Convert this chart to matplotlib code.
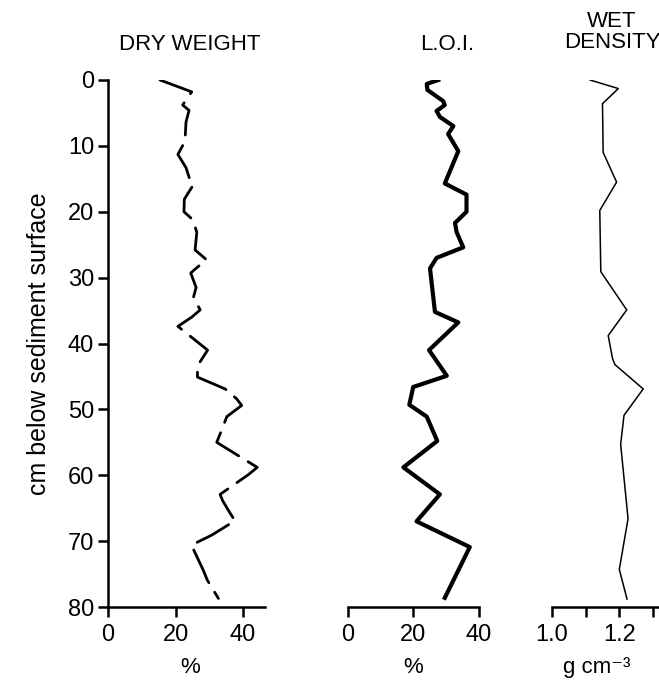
import matplotlib
matplotlib.use("Agg")
import matplotlib.pyplot as plt

plt.rcParams['font.family'] = ['Liberation Sans', 'DejaVu Sans']

# dry weight (%), drawn as a broken line
dw_depth = [0, 1.8, 3.8, 4.6, 6.4, 9.3, 11.3, 13.3, 14.9, 15.9, 18.1, 20.0, 21.2,
            23.1, 25.8, 27.3, 28.4, 29.3, 31.5, 33.0, 34.9, 36.0, 37.4, 41.0,
            43.4, 45.1, 46.9, 48.4, 49.4, 51.1, 53.1, 55.0, 58.8, 59.9, 62.9,
            63.9, 65.7, 66.9, 69.1, 70.1, 70.7, 74.4, 75.9, 78.7]
dw_pct = [15.4, 24.8, 22.1, 24.0, 23.1, 22.8, 20.7, 23.1, 24.1, 25.3, 22.6, 22.5, 25.1,
          26.3, 25.8, 29.2, 26.5, 24.5, 26.1, 25.3, 27.3, 24.8, 20.7, 29.5,
          26.5, 26.5, 34.7, 38.1, 39.6, 35.2, 33.7, 32.2, 44.2, 41.6, 33.2,
          34.0, 36.1, 37.6, 30.7, 26.7, 24.8, 28.2, 29.4, 32.7]

# loss on ignition (%)
loi_depth = [0, 0.6, 1.5, 3.2, 3.8, 4.7, 5.6, 7.0, 8.2, 10.8, 15.7, 17.4, 20.0,
             21.7, 23.1, 25.4, 27.0, 28.6, 35.2, 36.8, 41.0, 44.9, 46.6, 49.3,
             51.1, 54.8, 58.8, 62.9, 67.0, 70.9, 78.6]
loi_pct = [27.6, 24.1, 24.3, 29.1, 29.6, 27.1, 28.1, 32.2, 30.6, 33.7, 29.6, 36.2, 36.2,
           32.7, 33.2, 35.2, 27.1, 25.1, 26.6, 33.7, 24.8, 30.2, 20.0, 18.8,
           24.1, 27.3, 17.0, 28.1, 21.0, 37.2, 29.6]

# wet density (g cm-3)
wd_depth = [0, 1.3, 3.6, 11.0, 15.5, 19.8, 29.1, 34.9, 38.8, 42.3, 43.2, 46.9,
            50.9, 55.3, 66.6, 74.3, 78.8]
wd_val = [1.113, 1.197, 1.150, 1.152, 1.192, 1.142, 1.145, 1.222, 1.167, 1.180,
          1.187, 1.271, 1.214, 1.204, 1.226, 1.200, 1.223]

W, H = 659, 690
fig = plt.figure(figsize=(W / 100, H / 100), dpi=100)
bottom = (H - 607) / H
height = 527 / H

ax1 = fig.add_axes([108 / W, bottom, 157 / W, height])
ax2 = fig.add_axes([347.5 / W, bottom, 131.5 / W, height])
ax3 = fig.add_axes([552 / W, bottom, 106 / W, height])

ax1.plot(dw_pct, dw_depth, color='black', lw=2.0, linestyle=(0, (13, 4)),
         dash_capstyle='round')
ax2.plot(loi_pct, loi_depth, color='black', lw=3.0)
ax3.plot(wd_val, wd_depth, color='black', lw=1.1)

ax1.set_xlim(0, 46.5)
ax2.set_xlim(0, 40)
ax3.set_xlim(1.0, 1.315)

for ax in (ax1, ax2, ax3):
    ax.set_ylim(80, 0)
    ax.spines['top'].set_visible(False)
    ax.spines['right'].set_visible(False)
    ax.spines['bottom'].set_linewidth(1.8)
    ax.patch.set_alpha(0)
    ax.tick_params(axis='x', direction='out', length=7, width=1.8,
                   labelsize=17, pad=5)

ax1.spines['left'].set_linewidth(1.8)
ax1.set_yticks(range(0, 81, 10))
ax1.tick_params(axis='y', direction='out', length=7, width=1.8, labelsize=17, pad=3)
ax1.set_xticks([0, 20, 40])
ax1.set_ylabel('cm below sediment surface', fontsize=18, labelpad=12)

for ax in (ax2, ax3):
    ax.spines['left'].set_visible(False)
    ax.set_yticks([])

ax2.set_xticks([0, 20, 40])
ax3.set_xticks([1.0, 1.1, 1.2, 1.3])
ax3.set_xticklabels(['1.0', '', '1.2', ''])

ax1.set_xlabel('%', fontsize=16, labelpad=7)
ax2.set_xlabel('%', fontsize=16, labelpad=7)
ax3.set_xlabel('g cm⁻³', fontsize=16, labelpad=7)
ax3.xaxis.set_label_coords((597 - 552) / 106, -0.095)
ax1.xaxis.set_label_coords((190 - 108) / 157, -0.095)
ax2.xaxis.set_label_coords((413 - 347.5) / 131.5, -0.095)

fig.text(190 / W, 1 - 45 / H, 'DRY WEIGHT', ha='center', va='center', fontsize=16)
fig.text(447 / W, 1 - 45 / H, 'L.O.I.', ha='center', va='center', fontsize=16)
fig.text(612 / W, 1 - 32 / H, 'WET\nDENSITY', ha='center', va='center',
         fontsize=16, linespacing=1.05)

fig.savefig('out.png', dpi=100)
